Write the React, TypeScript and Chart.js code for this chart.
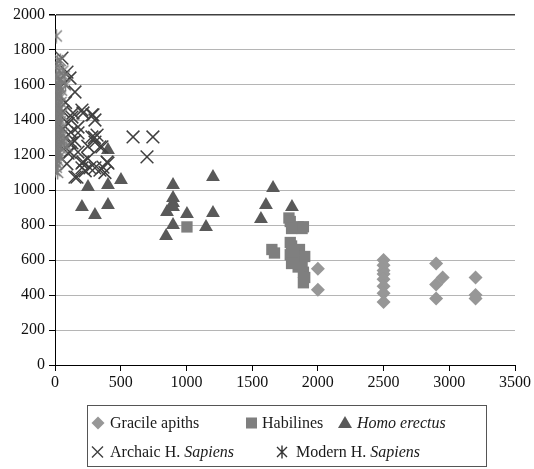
import React, { useEffect, useRef } from "react";
import { Chart, registerables } from "chart.js";

Chart.register(...registerables);

// ---- Data (brain size cc vs. time, thousands of years ago) ----
const graciles: [number, number][] = [
  [2000, 550], [2000, 430],
  [2500, 600], [2500, 570], [2500, 540], [2500, 520], [2500, 490], [2500, 450], [2500, 410], [2500, 360],
  [2900, 580], [2950, 500], [2900, 460], [2900, 380],
  [3200, 500], [3200, 400], [3200, 380],
];

const habilines: [number, number][] = [
  [1004, 789], [1650, 660], [1670, 640], [1780, 840], [1790, 820], [1790, 700], [1800, 680],
  [1810, 600], [1800, 780], [1850, 790], [1880, 780], [1890, 790], [1860, 660], [1880, 590],
  [1890, 530], [1900, 500], [1890, 470], [1790, 630], [1820, 640], [1900, 620], [1850, 560], [1800, 580],
];

const erectus: [number, number][] = [
  [205, 903], [251, 1017], [304, 857], [403, 1229], [403, 1029], [403, 914], [502, 1057],
  [845, 737], [852, 874], [898, 1029], [898, 954], [898, 926], [898, 903], [898, 800],
  [1004, 863], [1149, 789], [1202, 1074], [1202, 869], [1567, 834], [1605, 914], [1659, 1011], [1803, 903],
];

const archaic: [number, number][] = [
  [594, 1303], [745, 1303], [700, 1189], [281, 1429], [304, 1400], [213, 1440], [175, 1326],
  [320, 1314], [342, 1246], [304, 1274], [213, 1160], [205, 1126], [304, 1126], [396, 1160],
  [152, 1074], [114, 1269], [129, 1417], [99, 1211], [175, 1217], [365, 1131], [152, 1560],
  [114, 1640], [91, 1674], [53, 1754], [205, 1457], [289, 1429], [137, 1440], [175, 1360],
  [281, 1303], [129, 1269], [114, 1217], [205, 1154], [167, 1074], [266, 1126], [342, 1114],
  [403, 1154], [357, 1246], [70, 1610], [80, 1500], [60, 1450], [100, 1380], [250, 1180],
  [230, 1110], [380, 1100], [300, 1300], [150, 1280], [60, 1350], [90, 1150], [250, 1250], [120, 1330],
];

const modern: [number, number][] = [
  [10, 1880], [20, 1740], [40, 1740], [10, 1700], [30, 1680], [0, 1650], [15, 1640], [45, 1630],
  [5, 1610], [25, 1600], [35, 1590], [10, 1580], [50, 1570], [0, 1560], [20, 1550], [40, 1540],
  [15, 1530], [30, 1520], [5, 1510], [45, 1500], [10, 1490], [25, 1480], [0, 1470], [35, 1460],
  [20, 1450], [10, 1440], [50, 1430], [5, 1420], [30, 1410], [15, 1400], [40, 1390], [0, 1380],
  [25, 1370], [10, 1360], [45, 1350], [20, 1340], [5, 1330], [35, 1320], [15, 1310], [0, 1300],
  [30, 1290], [10, 1280], [50, 1270], [20, 1260], [5, 1250], [40, 1240], [15, 1230], [0, 1220],
  [25, 1210], [10, 1200], [35, 1190], [5, 1180], [20, 1170], [0, 1160], [15, 1150], [10, 1130],
  [0, 1110], [20, 1100], [60, 1680], [70, 1650], [80, 1600], [60, 1320], [70, 1280], [90, 1250],
];

const seriesNames = ["Gracile apiths", "Habilines", "Homo erectus", "Archaic H. Sapiens", "Modern H. Sapiens"];
const xTicks = [0, 500, 1000, 1500, 2000, 2500, 3000, 3500];
const yTicks = [0, 200, 400, 600, 800, 1000, 1200, 1400, 1600, 1800, 2000];

const COLORS = {
  gracile: "#979797",
  habiline: "#7f7f7f",
  erectus: "#595959",
  archaic: "#404040",
  modern: "#7a7a7a",
};

const FONT = '"Liberation Serif", "Times New Roman", serif';

function makeAsterisk(size: number, color: string, lw: number): HTMLCanvasElement {
  const c = document.createElement("canvas");
  c.width = size;
  c.height = size;
  const g = c.getContext("2d")!;
  g.strokeStyle = color;
  g.lineWidth = lw;
  const m = 2;
  g.beginPath();
  g.moveTo(m, m);
  g.lineTo(size - m, size - m);
  g.moveTo(size - m, m);
  g.lineTo(m, size - m);
  g.moveTo(size / 2, 0.5);
  g.lineTo(size / 2, size - 0.5);
  g.stroke();
  return c;
}

function toPts(arr: [number, number][]) {
  return arr.map(([x, y]) => ({ x, y }));
}

const legendPlugin = {
  id: "boxLegend",
  afterDraw(chart: any) {
    const ctx: CanvasRenderingContext2D = chart.ctx;
    ctx.save();
    // box
    ctx.strokeStyle = "#555";
    ctx.lineWidth = 1;
    ctx.strokeRect(87.5, 405.5, 399, 61);

    const r1 = 423;
    const r2 = 452;
    // diamond
    ctx.fillStyle = COLORS.gracile;
    ctx.beginPath();
    ctx.moveTo(98, r1 - 6.5);
    ctx.lineTo(104.5, r1);
    ctx.lineTo(98, r1 + 6.5);
    ctx.lineTo(91.5, r1);
    ctx.closePath();
    ctx.fill();
    // square
    ctx.fillStyle = COLORS.habiline;
    ctx.fillRect(246, r1 - 5.5, 11, 11);
    // triangle
    ctx.fillStyle = COLORS.erectus;
    ctx.beginPath();
    ctx.moveTo(345, r1 - 7);
    ctx.lineTo(352, r1 + 5);
    ctx.lineTo(338, r1 + 5);
    ctx.closePath();
    ctx.fill();
    // X
    ctx.strokeStyle = COLORS.archaic;
    ctx.lineWidth = 1.4;
    ctx.beginPath();
    ctx.moveTo(92, r2 - 5.5);
    ctx.lineTo(103, r2 + 5.5);
    ctx.moveTo(103, r2 - 5.5);
    ctx.lineTo(92, r2 + 5.5);
    ctx.stroke();
    // asterisk
    ctx.strokeStyle = "#333";
    ctx.beginPath();
    ctx.moveTo(277, r2 - 5);
    ctx.lineTo(287, r2 + 5);
    ctx.moveTo(287, r2 - 5);
    ctx.lineTo(277, r2 + 5);
    ctx.moveTo(282, r2 - 6.5);
    ctx.lineTo(282, r2 + 6.5);
    ctx.stroke();

    // texts
    ctx.fillStyle = "#1a1a1a";
    ctx.textBaseline = "alphabetic";
    ctx.textAlign = "left";
    const normal = "16px " + FONT;
    const italic = "italic 16px " + FONT;
    const b1 = r1 + 5;
    const b2 = r2 + 5;
    ctx.font = normal;
    ctx.fillText(seriesNames[0], 110, b1);
    ctx.fillText(seriesNames[1], 262, b1);
    ctx.font = italic;
    ctx.fillText(seriesNames[2], 357, b1);

    const drawMixed = (label: string, x: number, y: number) => {
      const idx = label.lastIndexOf(" ");
      const a = label.slice(0, idx + 1);
      const b = label.slice(idx + 1);
      ctx.font = normal;
      ctx.fillText(a, x, y);
      const w = ctx.measureText(a).width;
      ctx.font = italic;
      ctx.fillText(b, x + w, y);
    };
    drawMixed(seriesNames[3], 110, b2);
    drawMixed(seriesNames[4], 296, b2);
    ctx.restore();
  },
};

export default function App() {
  const ref = useRef<HTMLCanvasElement | null>(null);

  useEffect(() => {
    if (!ref.current) return;
    const asterisk = makeAsterisk(15, COLORS.modern, 1.4);
    const chart = new Chart(ref.current, {
      type: "scatter",
      data: {
        datasets: [
          {
            label: seriesNames[4],
            data: toPts(modern),
            pointStyle: asterisk as any,
            pointRadius: 7,
            backgroundColor: COLORS.modern,
            borderColor: COLORS.modern,
          },
          {
            label: seriesNames[3],
            data: toPts(archaic),
            pointStyle: "crossRot",
            pointRadius: 9,
            borderWidth: 1.5,
            borderColor: COLORS.archaic,
            backgroundColor: COLORS.archaic,
          },
          {
            label: seriesNames[2],
            data: toPts(erectus),
            pointStyle: "triangle",
            pointRadius: 8,
            borderWidth: 0,
            backgroundColor: COLORS.erectus,
            borderColor: COLORS.erectus,
          },
          {
            label: seriesNames[1],
            data: toPts(habilines),
            pointStyle: "rect",
            pointRadius: 8,
            borderWidth: 0,
            backgroundColor: COLORS.habiline,
            borderColor: COLORS.habiline,
          },
          {
            label: seriesNames[0],
            data: toPts(graciles),
            pointStyle: "rectRot",
            pointRadius: 7,
            borderWidth: 0,
            backgroundColor: COLORS.gracile,
            borderColor: COLORS.gracile,
          },
        ],
      },
      options: {
        animation: false,
        responsive: false,
        maintainAspectRatio: false,
        layout: { padding: { left: 0, top: 15, right: 19, bottom: 74 } },
        plugins: {
          legend: { display: false },
          tooltip: { enabled: false },
        },
        scales: {
          x: {
            type: "linear",
            min: 0,
            max: 3500,
            afterBuildTicks: (scale: any) => {
              scale.ticks = xTicks.map((v) => ({ value: v }));
            },
            afterFit: (scale: any) => {
              scale.height = 30;
            },
            grid: {
              drawOnChartArea: false,
              drawTicks: true,
              tickLength: 6,
              tickColor: "#000",
            },
            border: { color: "#000", width: 1 },
            ticks: {
              color: "#111",
              font: { family: FONT, size: 16 },
              padding: 2,
              maxRotation: 0,
              autoSkip: false,
              callback: (v: any) => String(v),
            },
          },
          y: {
            type: "linear",
            min: 0,
            max: 2000,
            afterBuildTicks: (scale: any) => {
              scale.ticks = yTicks.map((v) => ({ value: v }));
            },
            afterFit: (scale: any) => {
              scale.width = 55;
            },
            grid: {
              color: (c: any) => (c.tick && c.tick.value === 2000 ? "#404040" : "#b5b5b5"),
              lineWidth: (c: any) => (c.tick && c.tick.value === 2000 ? 1.5 : 1),
              drawTicks: true,
              tickLength: 6,
              tickColor: "#000",
            },
            border: { color: "#000", width: 1 },
            ticks: {
              color: "#111",
              font: { family: FONT, size: 16 },
              padding: 4,
              autoSkip: false,
              callback: (v: any) => String(v),
            },
          },
        },
      },
      plugins: [legendPlugin],
    });
    return () => chart.destroy();
  }, []);

  return (
    <div style={{ position: "fixed", left: 0, top: 0, width: 534, height: 469, background: "#fff" }}>
      <canvas ref={ref} width={534} height={469} style={{ display: "block" }} />
    </div>
  );
}
